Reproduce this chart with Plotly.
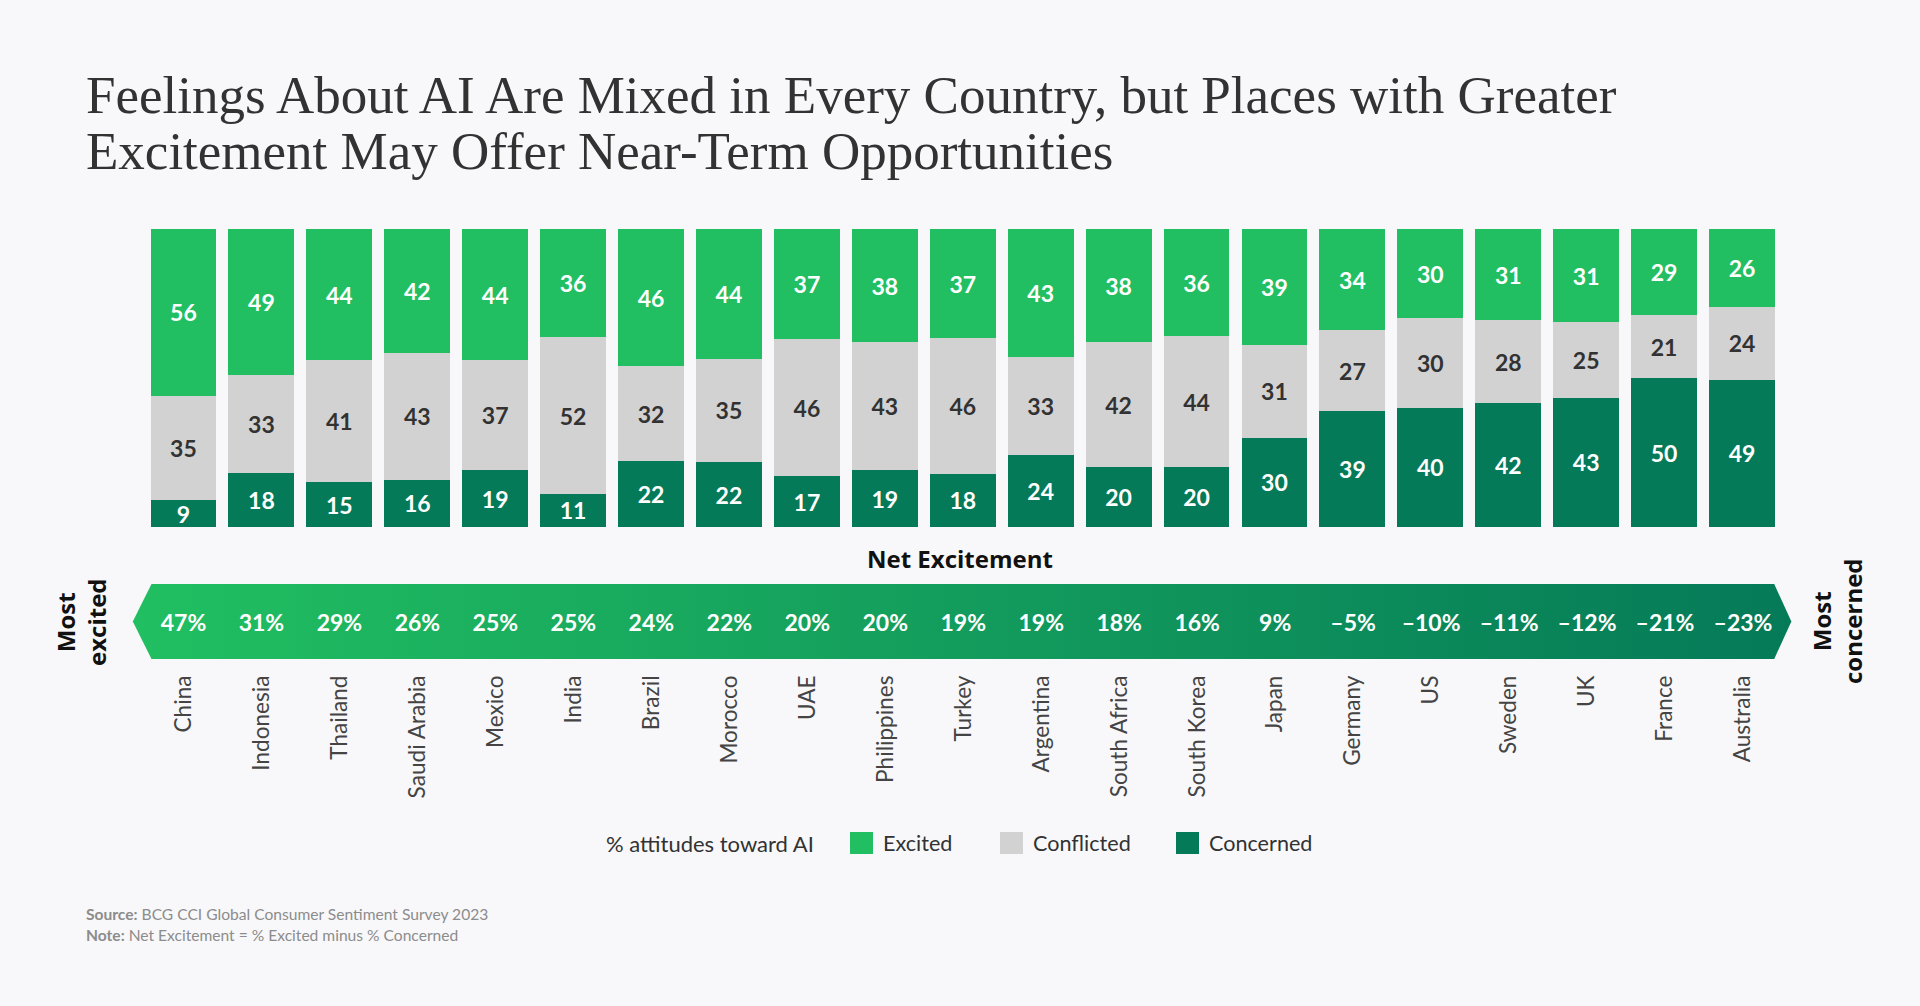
import plotly.graph_objects as go

countries = ['China', 'Indonesia', 'Thailand', 'Saudi Arabia', 'Mexico', 'India', 'Brazil',
             'Morocco', 'UAE', 'Philippines', 'Turkey', 'Argentina', 'South Africa',
             'South Korea', 'Japan', 'Germany', 'US', 'Sweden', 'UK', 'France', 'Australia']
excited = [56, 49, 44, 42, 44, 36, 46, 44, 37, 38, 37, 43, 38, 36, 39, 34, 30, 31, 31, 29, 26]
conflicted = [35, 33, 41, 43, 37, 52, 32, 35, 46, 43, 46, 33, 42, 44, 31, 27, 30, 28, 25, 21, 24]
concerned = [9, 18, 15, 16, 19, 11, 22, 22, 17, 19, 18, 24, 20, 20, 30, 39, 40, 42, 43, 50, 49]
net = [47, 31, 29, 26, 25, 25, 24, 22, 20, 20, 19, 19, 18, 16, 9, -5, -10, -11, -12, -21, -23]

W, H = 1920, 1006
BG = '#f8f8fa'
GREEN = '#21bf61'
GREY = '#d2d2d2'
DARK = '#057a58'
SANS = 'Lato'


def fx(px):
    return px / W


def fy(px):
    return 1 - px / H


fig = go.Figure()

# stacked bars, bottom to top
for name, vals, col, txt in [('Concerned', concerned, DARK, 'white'),
                             ('Conflicted', conflicted, GREY, '#323232'),
                             ('Excited', excited, GREEN, 'white')]:
    fig.add_trace(go.Bar(
        x=countries, y=vals, name=name, marker=dict(color=col, line_width=0),
        text=[str(v) for v in vals], textposition='inside', insidetextanchor='middle',
        textangle=0, constraintext='none',
        insidetextfont=dict(family=SANS, size=23, color=txt, weight=700),
        showlegend=False, xaxis='x', yaxis='y',
    ))

# net excitement arrow
fig.add_trace(go.Scatter(
    x=[-0.41, 20.4, 20.62, 20.4, -0.41, -0.65, -0.41],
    y=[1, 1, 0.5, 0, 0, 0.5, 1],
    mode='lines', fill='toself', line=dict(width=0),
    fillgradient=dict(type='horizontal', colorscale=[[0, GREEN], [1, DARK]]),
    hoverinfo='skip', showlegend=False, xaxis='x2', yaxis='y2',
))
fig.add_trace(go.Scatter(
    x=list(range(len(countries))), y=[0.45] * len(countries), mode='text',
    text=[(f'{v}%').replace('-', '\u2013') for v in net],
    textfont=dict(family=SANS, size=23, color='white', weight=700),
    showlegend=False, xaxis='x2', yaxis='y2',
))

annos = [
    dict(text='Excitement May Offer Near-Term Opportunities', x=fx(84), y=fy(182), yanchor='bottom',
         font=dict(family='Liberation Serif', size=53, color='#323232')),
    dict(text='Net Excitement', x=fx(960), y=fy(558), xanchor='center', yanchor='middle',
         font=dict(family='Open Sans', size=24, color='#111111', weight=700)),
    dict(text='Most<br>excited', x=fx(81), y=fy(622), xanchor='center', yanchor='middle', textangle=-90,
         font=dict(family='Open Sans', size=24, color='#111111', weight=700)),
    dict(text='Most<br>concerned', x=fx(1837), y=fy(621), xanchor='center', yanchor='middle', textangle=-90,
         font=dict(family='Open Sans', size=24, color='#111111', weight=700)),
    dict(text='% attitudes toward AI', x=fx(604), y=fy(843), yanchor='middle',
         font=dict(family=SANS, size=22, color='#323232')),
    dict(text='<b>Source:</b> BCG CCI Global Consumer Sentiment Survey 2023', x=fx(84), y=fy(914), yanchor='middle',
         font=dict(family=SANS, size=15.6, color='#8c8c8c')),
    dict(text='<b>Note:</b> Net Excitement = % Excited minus % Concerned', x=fx(84), y=fy(935), yanchor='middle',
         font=dict(family=SANS, size=15.6, color='#8c8c8c')),
]
shapes = []
# hand-made legend
for name, col, left in [('Excited', GREEN, 850), ('Conflicted', GREY, 1000), ('Concerned', DARK, 1176)]:
    shapes.append(dict(type='rect', xref='paper', yref='paper', x0=fx(left), x1=fx(left + 23),
                       y0=fy(854), y1=fy(832), fillcolor=col, line_width=0))
    annos.append(dict(text=name, x=fx(left + 31), y=fy(843), yanchor='middle',
                      font=dict(family=SANS, size=21.6, color='#323232')))

for a in annos:
    a.update(xref='paper', yref='paper', showarrow=False)
    a.setdefault('xanchor', 'left')

fig.update_layout(
    width=W, height=H, margin=dict(l=0, r=0, t=0, b=0),
    paper_bgcolor=BG, plot_bgcolor=BG,
    title=dict(text='Feelings About AI Are Mixed in Every Country, but Places with Greater',
               xref='paper', yref='paper', x=fx(86), xanchor='left', y=fy(113), yanchor='bottom',
               font=dict(family='Liberation Serif', size=53, color='#323232')),
    barmode='stack', barnorm='percent', bargap=0.155,
    xaxis=dict(domain=[fx(144.5), fx(1781)], range=[-0.5, 20.5], type='category', visible=False),
    yaxis=dict(domain=[fy(527), fy(229)], range=[0, 100], visible=False),
    xaxis2=dict(domain=[fx(125), fx(1801.5)], range=[-0.75, 20.75], anchor='y2',
                tickmode='array', tickvals=list(range(len(countries))), ticktext=countries,
                tickangle=-90, ticks='', showgrid=False, zeroline=False, showline=False,
                ticklabelstandoff=11, tickfont=dict(family=SANS, size=22.6, color='#444444')),
    yaxis2=dict(domain=[fy(659), fy(584)], range=[0, 1], anchor='x2', visible=False),
    annotations=annos, shapes=shapes,
)

fig.write_html("out.html", config=dict(displayModeBar=False),
               post_script=f"document.body.style.margin='0';document.body.style.background='{BG}';")
